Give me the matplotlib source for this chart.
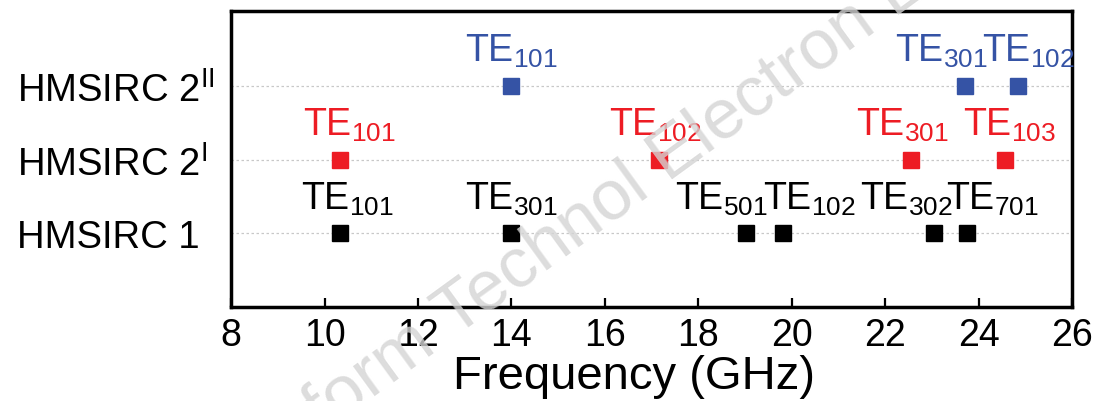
import matplotlib
matplotlib.use('Agg')
import matplotlib.pyplot as plt

plt.rcParams['font.family'] = ['Liberation Sans', 'DejaVu Sans']
plt.rcParams['mathtext.fontset'] = 'custom'
plt.rcParams['mathtext.rm'] = 'Liberation Sans'
plt.rcParams['mathtext.it'] = 'Liberation Sans'
plt.rcParams['mathtext.default'] = 'rm'

# rows of the chart
rows = ['HMSIRC 1', 'HMSIRC 2$^{\\mathrm{I}}$', 'HMSIRC 2$^{\\mathrm{II}}$']
row_pos = [1, 2, 3]

# resonant frequencies (GHz) and mode names for each structure
f_hm1 = [10.33, 14.0, 19.02, 19.82, 23.03, 23.75]
mode_hm1 = ['101', '301', '501', '102', '302', '701']
f_hm2a = [10.33, 17.15, 22.55, 24.57]
mode_hm2a = ['101', '102', '301', '103']
f_hm2b = [14.0, 23.7, 24.83]
mode_hm2b = ['101', '301', '102']

x_ticks = [8, 10, 12, 14, 16, 18, 20, 22, 24, 26]

# horizontal nudges of the labels (points), so they don't collide
dx_hm1 = [5.5, 0, -17.5, 18.5, -19.5, 18.5]
dx_hm2a = [7, -2.5, -6.5, 3]
dx_hm2b = [0, -17, 8]

series = [
    (f_hm1, mode_hm1, dx_hm1, row_pos[0], '#000000'),
    (f_hm2a, mode_hm2a, dx_hm2a, row_pos[1], '#ED1C24'),
    (f_hm2b, mode_hm2b, dx_hm2b, row_pos[2], '#3553A5'),
]

fig = plt.figure(figsize=(10.97, 4.02), dpi=100)
ax = fig.add_axes([0.2106, 0.2338, 0.9775 - 0.2106, 0.971 - 0.2338])

for f, modes, dxs, y, c in series:
    ax.plot(f, [y] * len(f), 's', color=c, ms=12, ls='none', zorder=3)
    for fx, m, dx in zip(f, modes, dxs):
        ax.annotate('TE$_{' + m + '}$', xy=(fx, y), xytext=(dx, 18),
                    textcoords='offset points', ha='center', va='baseline',
                    fontsize=27, color=c, zorder=4)

ax.set_xlim(8, 26)
ax.set_ylim(0, 4.02)
ax.set_xticks(x_ticks)
ax.set_yticks(row_pos)
ax.set_yticklabels(rows, fontsize=27.5)
for lab in ax.get_yticklabels():
    lab.set_horizontalalignment('left')
ax.tick_params(axis='y', length=0, pad=154)
ax.tick_params(axis='x', direction='in', length=6.5, width=1.6, labelsize=27, pad=7)
ax.set_xlabel('Frequency (GHz)', fontsize=34, labelpad=1, x=0.479)

ax.grid(axis='y', color='#c8c8c8', ls=(0, (2, 2)), lw=0.9)
ax.set_axisbelow(True)
for s in ax.spines.values():
    s.set_linewidth(2.5)

# faint watermark across the plot
wm = dict(fontsize=51, color='#d4d4d4', alpha=0.8, rotation=36,
          rotation_mode='anchor', va='baseline', transform=fig.transFigure, zorder=10)
fig.text(0.4139, 0.1592, 'Technol Electron Eng', ha='left', **wm)
fig.text(0.4139, 0.1592, 'Front Inform ', ha='right', **wm)

fig.savefig('out.png', dpi=100)
